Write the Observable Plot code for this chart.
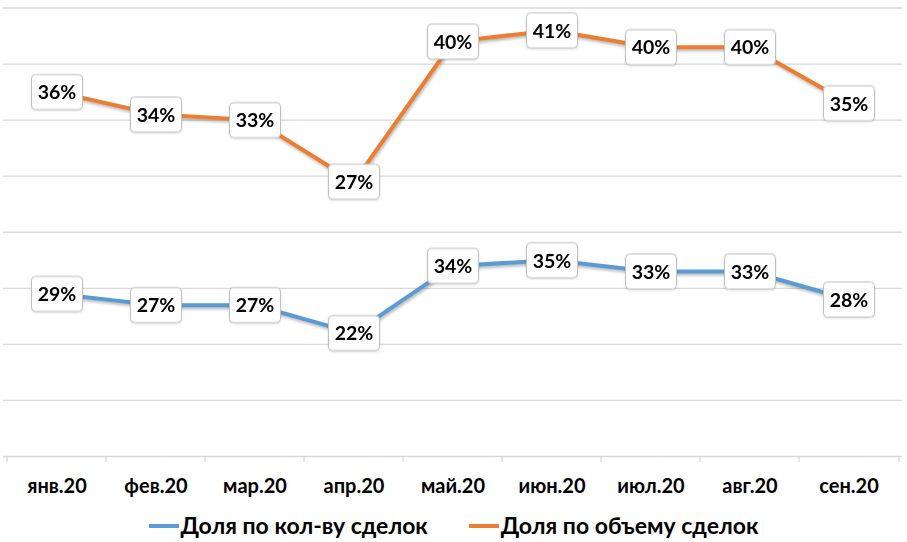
<!DOCTYPE html>
<html>
<head>
<meta charset="utf-8">
<script src="https://cdn.jsdelivr.net/npm/d3@7"></script>
<script src="https://cdn.jsdelivr.net/npm/@observablehq/plot@0.6"></script>
<style>
  html, body { margin: 0; padding: 0; background: #fff; }
  body { width: 907px; height: 542px; overflow: hidden; font-family: Lato, "Open Sans", sans-serif; }
  #legend { display: flex; justify-content: center; gap: 41px; font-weight: bold; font-size: 23px; color: #000; margin-top: 11px; line-height: 28px; }
  .item { display: flex; align-items: center; }
  .sw { width: 30px; height: 4px; margin-right: 2px; margin-top: 2px; }
</style>
</head>
<body>
<div id="chart"></div>
<div id="legend"></div>
<script>
const months = ["янв.20", "фев.20", "мар.20", "апр.20", "май.20", "июн.20", "июл.20", "авг.20", "сен.20"];
const countShare = [29, 27, 27, 22, 34, 35, 33, 33, 28];
const volumeShare = [36, 34, 33, 27, 40, 41, 40, 40, 35];
const seriesNames = ["Доля по кол-ву сделок", "Доля по объему сделок"];
const seriesColors = ["#5b9bd5", "#ed7d31"];
const gridTicks = [10, 20, 30, 40, 50, 60, 70, 80];

const data = [
  ...months.map((m, i) => ({month: m, value: countShare[i], series: seriesNames[0]})),
  ...months.map((m, i) => ({month: m, value: volumeShare[i], series: seriesNames[1]}))
];

const W = 907, H = 500, mL = 3, mR = 5, mT = 7.5, mB = 44;
const bw = (W - mL - mR) / months.length;

const boxSymbol = {
  draw(ctx) {
    const w = 25.5, h = 17.5, r = 4;
    ctx.moveTo(-w + r, -h);
    ctx.lineTo(w - r, -h);
    ctx.arcTo(w, -h, w, -h + r, r);
    ctx.lineTo(w, h - r);
    ctx.arcTo(w, h, w - r, h, r);
    ctx.lineTo(-w + r, h);
    ctx.arcTo(-w, h, -w, h - r, r);
    ctx.lineTo(-w, -h + r);
    ctx.arcTo(-w, -h, -w + r, -h, r);
    ctx.closePath();
  }
};

const stack = (o) => Plot.stackY2({x: "month", y: "value", z: "series", ...o});

const chart = Plot.plot({
  width: W, height: H,
  marginLeft: mL, marginRight: mR, marginTop: mT, marginBottom: mB,
  style: {fontFamily: "Lato, 'Open Sans', sans-serif", background: "#fff"},
  x: {type: "band", domain: months, padding: 0, axis: null},
  y: {domain: [0, 80], axis: null},
  color: {domain: seriesNames, range: seriesColors},
  marks: [
    Plot.gridY(gridTicks, {stroke: "#d9d9d9", strokeOpacity: 1, strokeWidth: 1.3}),
    Plot.ruleY([0], {stroke: "#d9d9d9", strokeWidth: 1.3}),
    Plot.axisX(months, {tickSize: 6, text: null, label: null, dx: -bw / 2, stroke: "#d9d9d9", strokeOpacity: 1, strokeWidth: 1.3}),
    Plot.axisX([months[months.length - 1]], {tickSize: 6, text: null, label: null, dx: bw / 2, stroke: "#d9d9d9", strokeOpacity: 1, strokeWidth: 1.3}),
    Plot.axisX(months, {tickSize: 0, tickPadding: 22, label: null, fontSize: 20, fontWeight: "bold", fill: "#000"}),
    Plot.lineY(data, stack({stroke: "series", strokeWidth: 4})),
    Plot.dot(data, stack({symbol: boxSymbol, r: 5, fill: "#fff", stroke: "#c0c0c0", strokeWidth: 1})),
    Plot.text(data, stack({text: d => d.value + "%", fontSize: 19.5, fontWeight: "bold", fill: "#000", dy: 1}))
  ]
});
d3.select(chart).selectAll('g[aria-label="line"]').style("filter", "drop-shadow(1px 2px 1.5px rgba(0,0,0,0.28))");
d3.select(chart).selectAll('g[aria-label="dot"]').style("filter", "drop-shadow(0.5px 1px 1px rgba(0,0,0,0.12))");
document.getElementById("chart").appendChild(chart);

const legend = document.getElementById("legend");
seriesNames.forEach((name, i) => {
  const item = document.createElement("div");
  item.className = "item";
  const sw = document.createElement("span");
  sw.className = "sw";
  sw.style.background = seriesColors[i];
  const label = document.createElement("span");
  label.textContent = name;
  item.appendChild(sw);
  item.appendChild(label);
  legend.appendChild(item);
});
</script>
</body>
</html>
